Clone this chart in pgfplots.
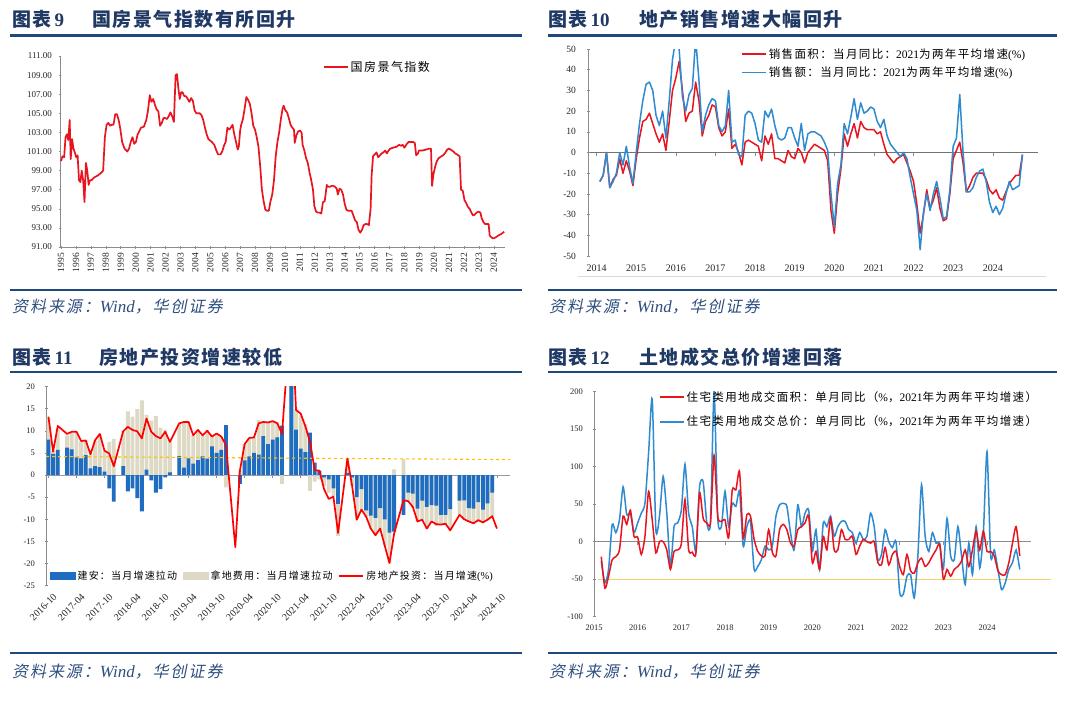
\documentclass[border=0pt]{standalone}
\usepackage{fontspec}
\usepackage{pgfplots}
\usepackage{pgfplotstable}
\pgfplotsset{compat=1.18}
\setmainfont{Liberation Serif}
\newfontfamily\cjkT{Noto Sans CJK SC}[LetterSpace=8]
\newfontfamily\cjkL{Noto Sans CJK SC}[LetterSpace=12]
\newfontfamily\cjkI{Noto Sans CJK SC}[FakeSlant=0.2,LetterSpace=12]
\definecolor{navy}{HTML}{1F3864}
\definecolor{rulec}{HTML}{1F497D}
\definecolor{srcc}{HTML}{2F4F7F}
\definecolor{axgray}{HTML}{8C8C8C}
\definecolor{redA}{HTML}{E8141E}
\definecolor{blueB}{HTML}{2E8BD0}
\definecolor{barBlue}{HTML}{1F6DC0}
\definecolor{barTan}{HTML}{DDD9C4}
\definecolor{yel}{HTML}{FFC000}
\definecolor{yelL}{HTML}{F5D36A}

\pgfplotsset{
  myaxis/.style={
    scale only axis, anchor=south west, enlargelimits=false,
    axis line style={draw=axgray, line width=0.6pt},
    tick style={draw=axgray, line width=0.5pt},
    tick align=outside, major tick length=3pt,
    ticklabel style={text=black!85},
    /pgf/number format/assume math mode=true,
    /pgf/number format/1000 sep={},
    legend style={draw=none, fill=none, inner sep=0pt, outer sep=0pt, legend cell align=left},
    legend image code/.code={\draw[#1] (0pt,0pt) -- (24pt,0pt);},
  },
  noarrows/.style={x axis line style={-}, y axis line style={-}},
  zeroline/.style={myaxis, axis x line=middle, axis y line=none, hide obscured x ticks=false,
    xticklabels={}, xtick align=outside, noarrows},
}

% ---------- panel 1 data (x: horizontal position, filtered to years) ----------
\pgfplotstableread{
zx v
178 100.0
182 100.5
187 100.4
191 102.5
195 102.8
199 102.2
203 104.3
206 100.2
210 102.3
214 101.3
218 100.9
222 100.4
226 100.6
230 98.0
234 97.8
238 99.0
242 98.0
246 95.7
250 99.8
254 99.0
258 97.5
262 98.0
266 98.0
275 98.3
285 98.5
295 98.8
300 99.0
305 102.5
310 103.8
315 104.0
320 103.7
325 103.8
330 103.8
335 104.9
340 104.9
345 104.3
350 103.3
355 102.0
362 101.3
370 101.0
375 101.3
380 102.0
385 102.5
390 101.8
395 102.0
400 102.8
410 103.5
418 103.6
425 104.3
430 105.3
435 106.9
440 106.2
445 106.5
450 105.9
455 105.4
460 105.2
465 103.7
470 104.0
475 104.5
480 104.5
485 104.4
490 104.7
495 105.1
500 104.7
505 104.1
510 109.0
514 109.1
518 107.6
522 106.5
526 107.2
530 107.2
535 106.8
540 106.8
545 106.5
550 106.2
555 106.6
560 106.3
565 105.3
570 105.0
580 105.0
585 104.8
590 104.3
595 103.5
600 102.8
605 102.3
615 102.0
622 101.7
628 101.1
633 100.7
640 100.7
645 101.0
650 101.6
655 102.0
660 103.5
665 103.3
670 103.5
675 103.8
680 102.8
685 102.0
690 101.2
693 101.5
697 103.2
700 103.8
705 104.4
710 105.5
715 106.7
720 106.4
725 106.0
730 105.0
735 103.7
740 103.3
745 102.5
750 101.5
755 99.5
760 97.0
765 95.8
770 94.9
775 94.8
780 94.8
785 95.8
790 96.5
795 98.0
800 100.5
805 102.0
810 103.0
815 104.4
820 105.5
823 105.8
828 105.3
833 105.1
838 104.5
843 103.8
848 103.5
853 103.3
855 101.9
860 102.7
865 103.1
870 103.2
875 103.0
878 101.7
883 101.1
888 100.3
893 99.8
898 98.8
903 98.0
908 97.0
912 95.3
917 94.7
922 94.6
927 94.6
932 94.5
937 95.7
942 95.8
948 97.5
952 97.3
957 97.3
962 97.4
967 97.4
972 97.3
977 97.1
980 96.5
985 97.1
990 97.0
995 96.5
1000 95.5
1005 94.9
1010 94.8
1015 94.8
1020 94.8
1025 94.3
1030 93.8
1035 93.6
1040 92.8
1045 92.5
1050 92.8
1055 93.3
1060 93.4
1065 93.4
1070 93.3
1075 95.0
1078 98.5
1082 100.5
1087 100.7
1092 100.9
1097 100.4
1102 100.6
1107 100.8
1112 100.9
1117 101.1
1122 100.8
1127 101.1
1132 101.3
1140 101.4
1150 101.5
1158 101.7
1163 101.6
1168 101.7
1173 101.4
1180 101.8
1185 102.0
1190 102.0
1198 102.0
1203 101.9
1207 100.6
1212 100.8
1215 101.1
1225 101.1
1235 101.2
1245 101.3
1250 101.3
1253 97.4
1257 98.6
1262 99.4
1267 100.0
1272 100.3
1280 100.5
1285 100.6
1290 100.8
1297 101.2
1302 101.3
1307 101.2
1315 101.0
1320 100.8
1325 100.7
1333 100.5
1337 97.0
1342 96.9
1347 95.9
1352 95.6
1357 95.2
1362 95.0
1367 94.6
1372 94.3
1377 94.4
1382 94.6
1388 94.7
1393 94.6
1397 94.0
1402 93.6
1407 93.4
1412 93.4
1417 93.4
1420 92.2
1425 92.0
1430 91.9
1437 92.0
1445 92.2
1455 92.4
1462 92.6
}\gfdata

% ---------- panel 2 data (m: months since 2014-01) ----------
\pgfplotstableread{
m area value
1 -14 -14
2 -11 -11
3 0 0
4 -17 -17
5 -13 -14
6 -11 -10
7 -3 0
8 -10 -6
9 -4 3
10 -9 -7
11 -16 -15
12 -3 0
13 7 14
14 15 25
15 16 33
16 19 34
17 14 30
18 9 18
19 5 13
20 9 20
21 1 7
22 15 25
23 30 45
24 36 55
25 44 50
26 30 27
27 15 20
28 19 28
29 20 31
30 34 55
31 25 35
32 8 10
33 15 18
34 18 23
35 23 26
36 22 25
37 12 13
38 8 10
39 10 13
40 21 30
41 2 5
42 4 6
43 0 -1
44 -6 -2
45 5 18
46 6 20
47 5 19
48 4 14
49 3 6
50 -4 5
51 8 20
52 4 17
53 9 21
54 -3 13
55 -3 7
56 -4 6
57 -5 7
58 1 12
59 -2 12
60 -3 7
61 2 3
62 0 14
63 -5 1
64 0 9
65 2 10
66 4 10
67 3 9
68 2 8
69 1 5
70 -4 1
71 -28 -20
72 -39 -36
73 -20 -15
74 -8 -6
75 9 14
76 3 9
77 9 17
78 14 26
79 7 16
80 15 24
81 12 19
82 11 20
83 11 22
84 11 21
85 9 15
86 10 12
87 4 16
88 -1 8
89 -3 4
90 -5 2
91 -3 0
92 -2 -2
93 -1 0
94 -5 -3
95 -9 -12
96 -14 -20
97 -25 -28
98 -39 -47
99 -30 -29
100 -18 -20
101 -27 -28
102 -23 -20
103 -17 -14
104 -27 -22
105 -33 -32
106 -32 -31
107 -20 -18
108 -3 3
109 1 7
110 5 28
111 -5 0
112 -19 -19
113 -16 -19
114 -12 -17
115 -10 -12
116 -10 -9
117 -10 -8
118 -13 -14
119 -18 -24
120 -20 -29
121 -18 -26
122 -22 -30
123 -23 -27
124 -19 -20
125 -15 -14
126 -13 -18
127 -11 -17
128 -11 -16
129 -1 -1
}\salesdata

% ---------- panel 3 data (idx: months since 2016-10) ----------
\pgfplotstableread{
idx b t r
0 8 13 13.2
1 4.8 5.5 5.3
2 5.7 10.5 11.1
3 nan nan nan
4 6.2 9 9.3
5 5.8 9.5 9.8
6 4.0 9.8 9.8
7 3.8 7.6 7.7
8 4.5 8 7.8
9 1.5 5 4.7
10 2.0 7.8 7.9
11 1.8 9.3 9.3
12 0.8 5.5 5.5
13 -3 7.5 4.9
14 -6 8.2 2.0
15 nan nan nan
16 2.0 10 9.9
17 -3.7 14.4 10.9
18 -3.0 13.2 10.2
19 -5.2 14.9 9.9
20 -8.2 16.9 8.3
21 1.2 13.6 12.8
22 -1.2 12.3 9.8
23 -4.0 13.3 8.8
24 -3.2 10.7 8.3
25 -0.5 10.3 9.8
26 0.6 7.6 7.5
27 nan nan nan
28 4.3 11.6 11.7
29 1.7 12.0 12.0
30 3.8 12.1 12.0
31 2.6 9.1 9.0
32 3.4 10.2 10.2
33 4.2 9.0 9.0
34 3.7 10.2 10.0
35 6.5 8.9 8.7
36 5.0 9.3 9.4
37 5.7 8.7 8.7
38 11.3 -2.8 6.8
39 nan nan nan
40 nan nan -16.3
41 -2.0 1.0 1.1
42 3.3 7.0 7.0
43 4.2 8.3 8.4
44 5.0 8.5 8.5
45 4.6 12.4 11.7
46 8.8 12.2 12.0
47 7.0 11.8 11.9
48 8.0 12.1 12.2
49 8.5 11.9 11.7
50 11.2 -2.0 9.3
51 nan nan nan
52 30 38 38.3
53 10.3 14.8 14.7
54 6.0 13.5 13.9
55 5.2 11.5 11.0
56 9.6 -3.6 7.5
57 2.8 -1.5 1.1
58 1.0 -1.0 1.0
59 -0.5 -2.5 -3.2
60 -1.0 -4.0 -5.4
61 -3.0 -4.8 -4.9
62 -6.5 -13.8 -13.1
63 nan nan nan
64 0.5 3.8 3.7
65 -0.5 -2.4 -2.4
66 -5.0 -10.0 -10.1
67 -3.2 -8.0 -7.8
68 -8.0 -9.5 -9.4
69 -9.2 -12.2 -12.1
70 -9.7 -13.7 -13.6
71 -7.5 -12.5 -12.1
72 -10.0 -16.0 -16.0
73 -13.0 -20.0 -19.9
74 -12.8 1.3 -13.2
75 nan nan nan
76 -9.0 3.6 -5.7
77 -4.0 -6.0 -5.9
78 -4.2 -7.5 -7.2
79 -7.6 -10.6 -10.5
80 -5.8 -10.3 -10.1
81 -7.2 -12.2 -12.1
82 -6.8 -10.8 -10.5
83 -6.9 -11.5 -11.1
84 -9.0 -11.3 -11.2
85 -9.0 -11.1 -11.0
86 -7.7 -12.5 -12.5
87 nan nan nan
88 -5.8 -9.1 -9.0
89 -5.7 -10.0 -10.0
90 -7.5 -10.6 -10.5
91 -7.6 -11.0 -10.9
92 -6.1 -10.3 -10.2
93 -7.8 -10.8 -10.7
94 -6.4 -10.2 -10.1
95 -4.0 -9.4 -9.3
96 nan nan -12.1
}\investdata

% ---------- panel 4 data (m: months since 2015-01) ----------
\pgfplotstableread{
m area price
2 -20 -26
3 -62 -55
4 -46 -37
5 -24 23
6 -20 12
7 -11 29
8 34 73
9 23 36
10 42 38
11 7 12
12 6 25
13 -17 38
14 7 51
15 67 118
16 29 190
17 -15 16
18 0 34
19 0 87
20 -11 38
21 -37 -33
22 -13 20
23 -11 25
24 -3 42
25 56 103
26 -11 38
27 -14 20
28 -16 -13
29 65 73
30 31 80
31 25 25
32 25 25
33 115 200
34 34 31
35 27 20
36 29 67
37 5 20
38 69 51
39 69 47
40 93 67
41 5 -6
42 36 20
43 34 27
44 3 -37
45 -13 -33
46 -19 -24
47 -19 -6
48 16 -11
49 -14 -6
50 -19 34
51 16 49
52 23 51
53 16 47
54 -2 12
55 -6 -11
56 16 49
57 20 20
58 25 38
59 34 42
60 -28 -13
61 -13 16
62 -37 -37
63 7 25
64 -11 20
65 31 34
66 -11 7
67 -11 20
68 16 27
69 3 27
70 3 16
71 7 12
72 -17 -2
73 -6 12
74 3 3
75 0 7
76 -2 38
77 0 20
78 -28 -24
79 -31 -17
80 -8 16
81 -31 0
82 -17 -8
83 -13 0
84 -33 -68
85 -44 -70
86 -17 -46
87 -39 -44
88 -42 -75
89 -28 -19
90 -22 76
91 -33 7
92 -28 -13
93 -19 12
94 -11 -2
95 -4 -2
96 -50 -37
97 -37 31
98 -46 -19
99 -37 -24
100 -33 20
101 -26 -19
102 -11 -57
103 -33 -2
104 -11 -44
105 14 20
106 -11 -35
107 14 12
108 -13 120
109 -13 -19
110 -19 -11
111 -39 -37
112 -44 -64
113 -44 -55
114 -28 -37
115 -2 -28
116 20 -11
117 -19 -37
}\landdata

\begin{document}
\begin{tikzpicture}
\useasboundingbox (0,0) rectangle (1080pt,-710pt);
\fill[white] (0,0) rectangle (1080pt,-710pt);

% ---------------- titles, rules, sources ----------------
\node[anchor=base west, inner sep=0, text=navy] at (12pt,-26pt) {\cjkT\bfseries\fontsize{19}{19}\selectfont 图表\hspace{3pt}{\rmfamily\bfseries 9}};
\node[anchor=base west, inner sep=0, text=navy] at (92pt,-26pt) {\cjkT\bfseries\fontsize{19}{19}\selectfont 国房景气指数有所回升};
\node[anchor=base west, inner sep=0, text=navy] at (548pt,-26pt) {\cjkT\bfseries\fontsize{19}{19}\selectfont 图表\hspace{3pt}{\rmfamily\bfseries 10}};
\node[anchor=base west, inner sep=0, text=navy] at (639pt,-26pt) {\cjkT\bfseries\fontsize{19}{19}\selectfont 地产销售增速大幅回升};
\node[anchor=base west, inner sep=0, text=navy] at (12pt,-364pt) {\cjkT\bfseries\fontsize{19}{19}\selectfont 图表\hspace{3pt}{\rmfamily\bfseries 11}};
\node[anchor=base west, inner sep=0, text=navy] at (99pt,-364pt) {\cjkT\bfseries\fontsize{19}{19}\selectfont 房地产投资增速较低};
\node[anchor=base west, inner sep=0, text=navy] at (548pt,-364pt) {\cjkT\bfseries\fontsize{19}{19}\selectfont 图表\hspace{3pt}{\rmfamily\bfseries 12}};
\node[anchor=base west, inner sep=0, text=navy] at (639pt,-364pt) {\cjkT\bfseries\fontsize{19}{19}\selectfont 土地成交总价增速回落};

\foreach \y in {35.5,290,372,653} {
  \draw[rulec, line width=2.6pt] (10pt,-\y pt) -- (522pt,-\y pt);
  \draw[rulec, line width=2.6pt] (548pt,-\y pt) -- (1057pt,-\y pt);
}
\foreach \xx/\yy in {12/312,549/312,12/677,549/677} {
  \node[anchor=base west, inner sep=0, text=srcc] at (\xx pt,-\yy pt) {\cjkI\fontsize{16}{16}\selectfont 资料来源：{\rmfamily\itshape\fontsize{17}{17}\selectfont Wind}，华创证券};
}
\draw[black!15, line width=0.6pt] (578pt,-276pt) -- (1046pt,-276pt);

% ---------------- panel 1 ----------------
\begin{axis}[myaxis, at={(60pt,-247pt)}, width=445pt, height=191pt,
  xmin=1994.93, xmax=2024.75, ymin=91, ymax=111,
  axis x line=bottom, axis y line=left, noarrows,
  x filter/.expression={1995+(x-178)/43.24},
  xtick={1995,1996,...,2024},
  ytick={91,93,...,111},
  xticklabel style={rotate=90, anchor=east, font=\fontsize{9.5}{9.5}\selectfont, xshift=-1pt},
  yticklabel style={font=\fontsize{9}{9}\selectfont, xshift=-3pt, /pgf/number format/.cd, fixed, fixed zerofill, precision=2},
  legend style={at={(0.591,0.942)}, anchor=west},
]
\addplot[redA, line width=1.7pt, line join=round, forget plot] table[x=zx,y=v]{\gfdata};
\addlegendimage{redA, line width=1.7pt}
\addlegendentry{\cjkL\fontsize{12}{12}\selectfont 国房景气指数}
\end{axis}

% ---------------- panel 2 ----------------
\begin{axis}[zeroline, at={(588pt,-256pt)}, width=450pt, height=207pt,
  xmin=-2.6, xmax=133.7, ymin=-50, ymax=50, xtick={0,12,...,120},
  x axis line style={draw=black!55, line width=0.7pt}]
\end{axis}
\begin{axis}[myaxis, at={(588pt,-256pt)}, width=450pt, height=207pt,
  xmin=-2.6, xmax=133.7, ymin=-50, ymax=50,
  axis x line=bottom, axis y line=left, noarrows,
  x axis line style={draw=none}, xtick style={draw=none},
  xtick={0,12,...,120},
  xticklabels={2014,2015,2016,2017,2018,2019,2020,2021,2022,2023,2024},
  ytick={-50,-40,...,50},
  xticklabel style={font=\fontsize{10}{10}\selectfont, yshift=-4pt},
  yticklabel style={font=\fontsize{9.5}{9.5}\selectfont, xshift=-7pt},
  legend style={at={(0.34,0.93)}, anchor=west, row sep=3pt},
]
\addplot[redA, line width=1.5pt, line join=round, forget plot] table[x=m,y=area]{\salesdata};
\addplot[blueB, line width=1.5pt, line join=round, forget plot] table[x=m,y=value]{\salesdata};
\addlegendimage{redA, line width=1.8pt}
\addlegendentry{{\cjkL\fontsize{11.5}{11.5}\selectfont 销售面积：当月同比：}{\fontsize{11.5}{11.5}\selectfont 2021}{\cjkL\fontsize{11.5}{11.5}\selectfont 为两年平均增速}{\fontsize{11.5}{11.5}\selectfont(\%)}}
\addlegendimage{blueB, line width=1.8pt}
\addlegendentry{{\cjkL\fontsize{11.5}{11.5}\selectfont 销售额：当月同比：}{\fontsize{11.5}{11.5}\selectfont 2021}{\cjkL\fontsize{11.5}{11.5}\selectfont 为两年平均增速}{\fontsize{11.5}{11.5}\selectfont(\%)}}
\end{axis}

% ---------------- panel 3 ----------------
\begin{axis}[zeroline, at={(46pt,-585.6pt)}, width=464pt, height=199pt,
  xmin=-0.52, xmax=98.8, ymin=-25, ymax=20, xtick={0,6,...,96},
  x axis line style={draw=black!40, line width=0.7pt}]
\end{axis}
\begin{axis}[myaxis, at={(46pt,-585.6pt)}, width=464pt, height=199pt,
  xmin=-0.52, xmax=98.8, ymin=-25, ymax=20,
  axis x line=bottom, axis y line=left, noarrows,
  x axis line style={draw=none}, xtick style={draw=none},
  xtick={0,6,...,96},
  xticklabels={2016-10,2017-04,2017-10,2018-04,2018-10,2019-04,2019-10,2020-04,2020-10,2021-04,2021-10,2022-04,2022-10,2023-04,2023-10,2024-04,2024-10},
  ytick={-25,-20,...,20},
  xticklabel style={rotate=45, anchor=north east, font=\fontsize{10}{10}\selectfont, inner sep=1pt, xshift=0pt, yshift=-6pt},
  yticklabel style={font=\fontsize{8.5}{8.5}\selectfont, xshift=-6pt},
  legend columns=3,
  legend style={at={(0.009,0.05)}, anchor=west, /tikz/every even column/.append style={column sep=4pt}},
]
\addplot[ybar, bar shift=0pt, bar width=3.8pt, fill=barTan, draw=none, forget plot] table[x=idx,y=t]{\investdata};
\addplot[ybar, bar shift=0pt, bar width=3.8pt, fill=barBlue, draw=none, forget plot] table[x=idx,y=b]{\investdata};
\addplot[yel, dashed, line width=1.1pt, forget plot] coordinates {(-0.5,4.2) (98.8,3.5)};
\addplot[red, line width=1.7pt, line join=round, forget plot] table[x=idx,y=r]{\investdata};
\addlegendimage{legend image code/.code={\fill[barBlue] (0pt,-3.8pt) rectangle (25pt,3.8pt);}}
\addlegendentry{\cjkL\fontsize{10}{10}\selectfont 建安：当月增速拉动}
\addlegendimage{legend image code/.code={\fill[barTan] (0pt,-3.8pt) rectangle (25pt,3.8pt);}}
\addlegendentry{\cjkL\fontsize{10}{10}\selectfont 拿地费用：当月增速拉动}
\addlegendimage{red, line width=1.8pt}
\addlegendentry{{\cjkL\fontsize{10}{10}\selectfont 房地产投资：当月增速}{\fontsize{10.5}{10.5}\selectfont(\%)}}
\end{axis}

% ---------------- panel 4 ----------------
\begin{axis}[zeroline, at={(594pt,-616.7pt)}, width=436.7pt, height=225.2pt,
  xmin=0, xmax=120, ymin=-100, ymax=200, xtick={0,12,...,108},
  x axis line style={draw=axgray, line width=0.7pt}]
\end{axis}
\begin{axis}[myaxis, at={(594pt,-616.7pt)}, width=456.7pt, height=225.2pt,
  xmin=0, xmax=125.5, ymin=-100, ymax=200,
  axis x line=bottom, axis y line=left, noarrows,
  x axis line style={draw=none}, xtick style={draw=none},
  xtick={0,12,...,108},
  xticklabels={2015,2016,2017,2018,2019,2020,2021,2022,2023,2024},
  ytick={-100,-50,...,200},
  xticklabel style={font=\fontsize{8.5}{8.5}\selectfont, yshift=-3pt},
  yticklabel style={font=\fontsize{8.5}{8.5}\selectfont, xshift=-6pt},
  legend style={at={(0.142,0.92)}, anchor=west, row sep=9pt},
]
\addplot[yelL, line width=0.6pt, forget plot] coordinates {(1,-50) (125.5,-50)};
\addplot[blueB, line width=1.5pt, smooth, tension=0.4, forget plot] table[x=m,y=price]{\landdata};
\addplot[redA, line width=1.5pt, smooth, tension=0.4, forget plot] table[x=m,y=area]{\landdata};
\addlegendimage{redA, line width=1.8pt}
\addlegendentry{{\cjkL\fontsize{11.5}{11.5}\selectfont 住宅类用地成交面积：单月同比（}{\fontsize{11.5}{11.5}\selectfont\%}{\cjkL\fontsize{11.5}{11.5}\selectfont ，}{\fontsize{11.5}{11.5}\selectfont 2021}{\cjkL\fontsize{11.5}{11.5}\selectfont 年为两年平均增速）}}
\addlegendimage{blueB, line width=1.8pt}
\addlegendentry{{\cjkL\fontsize{11.5}{11.5}\selectfont 住宅类用地成交总价：单月同比（}{\fontsize{11.5}{11.5}\selectfont\%}{\cjkL\fontsize{11.5}{11.5}\selectfont ，}{\fontsize{11.5}{11.5}\selectfont 2021}{\cjkL\fontsize{11.5}{11.5}\selectfont 年为两年平均增速）}}
\end{axis}
\end{tikzpicture}
\end{document}
